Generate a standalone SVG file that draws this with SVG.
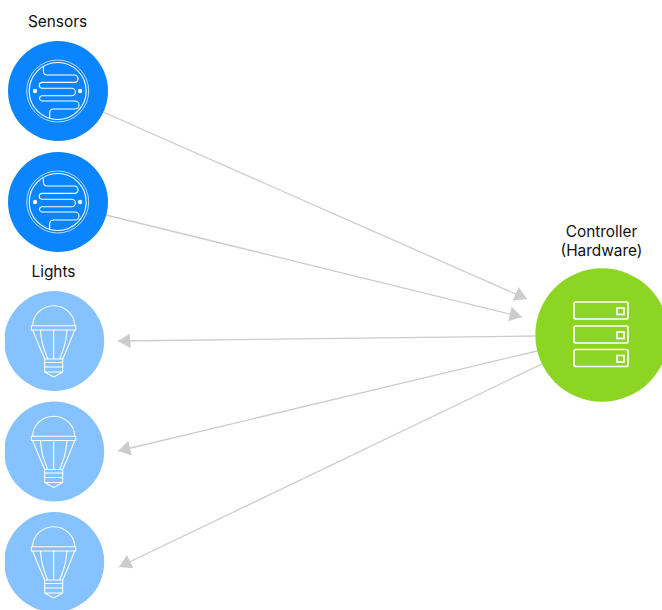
<svg xmlns="http://www.w3.org/2000/svg" width="662" height="610" viewBox="0 0 662 610">
<style>
.lbl{font-family:Inter,"Liberation Sans",Arial,sans-serif;font-size:15.400px;fill:#111;text-anchor:middle}
.ln{fill:none;stroke:#ccc;stroke-width:1.3;marker-end:url(#ah)}
.ic{fill:none;stroke:#fff;stroke-width:1.1;stroke-linejoin:round}
.ict{fill:none;stroke:#fff;stroke-width:.7}
.srv{fill:none;stroke:#fff;stroke-width:1.700}
</style>
<defs>
<marker id="ah" markerUnits="userSpaceOnUse" markerWidth="14" markerHeight="16" refX="12.500" refY="7.500" orient="auto"><path d="M0 0L12.500 7.500L0 15Z" fill="#ccc"/></marker>
<g id="sensor">
<circle r="31" class="ict"/>
<circle r="28.500" class="ic"/>
<path class="ic" d="M-14.300-24.300V-20Q-14.300-16-10.300-16H17.300A3.900 3.800 0 0 1 17.300-8.600H-16A3 3 0 0 0-16-2.700H14A3.700 3.700 0 0 1 14 4.700H-16A2.700 2.700 0 0 0-16 10H17.300A4 4 0 0 1 17.300 18H-4Q-8 18-8 22V27"/>
<circle cx="-22.700" r="2.200" fill="#fff"/><circle cx="22.300" r="2.200" fill="#fff"/>
</g>
<g id="bulb">
<rect x="-22.300" y="-15.300" width="44.300" height="4.300" class="ic"/>
<path class="ic" d="M-21-15.300A21 20 0 0 1 21-15.300M-21-11L-15 4L-9 18H9L15 4L21-11M-13.300-11C-12-1-13 0-6 18M13.300-11C12-1 13 0 6 18M0-11V18M-9 18V31L0 36L9 31V18M-9 21.500H9M-9 26H9M-9 31H9"/>
</g>
<clipPath id="lc"><rect x="5" y="0" width="200" height="610"/></clipPath>
</defs>
<g id="connectors">
<path class="ln" d="M103 112L527 299"/>
<path class="ln" d="M106 215L522 317"/>
<path class="ln" d="M535 336L118 341"/>
<path class="ln" d="M537 351L118 451"/>
<path class="ln" d="M542 364L119 567"/>
</g>
<g id="sensor1"><circle cx="58" cy="91" r="50" fill="#0a84ff"/><use href="#sensor" x="57.700" y="91"/></g>
<g id="sensor2"><circle cx="58" cy="202" r="50" fill="#0a84ff"/><use href="#sensor" x="57.700" y="202"/></g>
<g id="light1"><circle cx="54.200" cy="341" r="50" fill="#85c2ff" clip-path="url(#lc)"/><use href="#bulb" x="53.700" y="341"/></g>
<g id="light2"><circle cx="54.200" cy="451.500" r="50" fill="#85c2ff" clip-path="url(#lc)"/><use href="#bulb" x="53.700" y="451.500"/></g>
<g id="light3"><circle cx="54.200" cy="562" r="50" fill="#85c2ff" clip-path="url(#lc)"/><use href="#bulb" x="53.700" y="562"/></g>
<g id="controller">
<circle cx="602" cy="335" r="66.700" fill="#8cd522"/>
<rect class="srv" x="574" y="302" width="54" height="17" rx="2"/>
<rect class="srv" x="574" y="326" width="54" height="17" rx="2"/>
<rect class="srv" x="574" y="349.500" width="54" height="17" rx="2"/>
<rect class="srv" x="617" y="308" width="7" height="6.500"/>
<rect class="srv" x="617" y="332" width="7" height="6.500"/>
<rect class="srv" x="617" y="355.500" width="7" height="6.500"/>
</g>
<g id="labels">
<text class="lbl" x="57.500" y="27">Sensors</text>
<text class="lbl" x="53.500" y="277">Lights</text>
<text class="lbl" x="601.500" y="237">Controller</text>
<text class="lbl" x="601.500" y="256">(Hardware)</text>
</g>
</svg>
